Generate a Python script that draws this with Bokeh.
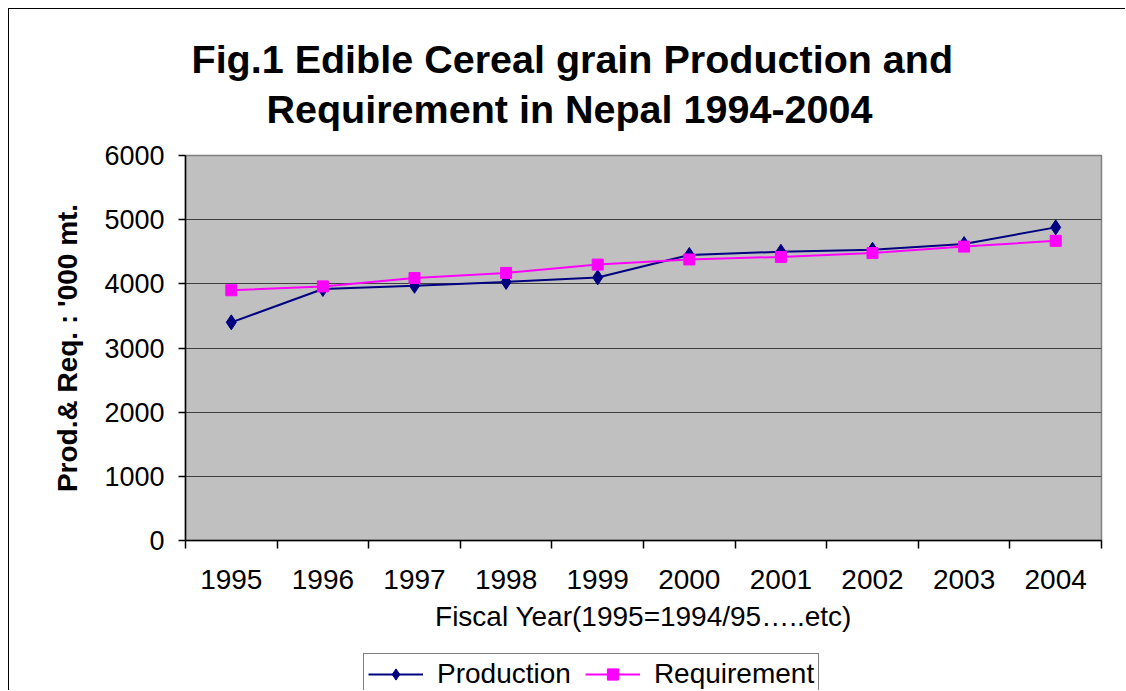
from bokeh.plotting import figure
from bokeh.models import (ColumnDataSource, FixedTicker, Title, Legend, LegendItem, Range1d, Spacer)
from bokeh.layouts import column, row
from bokeh.embed import file_html
from bokeh.resources import INLINE

years = [1995, 1996, 1997, 1998, 1999, 2000, 2001, 2002, 2003, 2004]
production = [3400, 3920, 3970, 4030, 4100, 4450, 4500, 4530, 4620, 4880]
requirement = [3900, 3960, 4090, 4170, 4300, 4380, 4420, 4480, 4580, 4670]
y_ticks = [0, 1000, 2000, 3000, 4000, 5000, 6000]
series_names = ["Production", "Requirement"]

title_line1 = "Fig.1 Edible Cereal grain Production and"
title_line2 = "Requirement in Nepal 1994-2004"
x_title = "Fiscal Year(1995=1994/95\u2026..etc)"
y_title = "Prod.& Req. : '000 mt."

FONT = "Liberation Sans"
navy = "#000080"
mag = "#FF00FF"

src = ColumnDataSource(dict(year=years, prod=production, req=requirement))

p = figure(width=1116, height=637, output_backend="svg", toolbar_location=None,
           x_range=Range1d(years[0] - 0.5, years[-1] + 0.5),
           y_range=Range1d(y_ticks[0], y_ticks[-1]),
           min_border_left=176, min_border_right=24,
           min_border_top=146, min_border_bottom=106)
p.title = None
p.background_fill_color = "#C0C0C0"
p.border_fill_color = "white"
p.outline_line_color = "#808080"
p.outline_line_width = 1.5

# titles (inner line added first)
t2 = Title(text=title_line2, align="left", text_font=FONT, text_font_size="39.5px",
           text_font_style="bold", text_color="black", standoff=50, offset=81)
t1 = Title(text=title_line1, align="left", text_font=FONT, text_font_size="39.5px",
           text_font_style="bold", text_color="black", standoff=-42, offset=6)
p.add_layout(t2, "above")
p.add_layout(t1, "above")

# axes
xax = p.xaxis[0]
xax.ticker = FixedTicker(ticks=years, minor_ticks=[y - 0.5 for y in years] + [years[-1] + 0.5])
xax.major_tick_line_color = None
xax.minor_tick_out = 8
xax.minor_tick_in = 0
xax.minor_tick_line_color = "black"
xax.minor_tick_line_width = 1.5
xax.axis_line_color = "black"
xax.axis_line_width = 1.5
xax.major_label_text_font = FONT
xax.major_label_text_font_size = "28px"
xax.major_label_text_color = "black"
xax.major_label_standoff = 21
xax.axis_label = x_title
xax.axis_label_text_font = FONT
xax.axis_label_text_font_size = "28px"
xax.axis_label_text_font_style = "normal"
xax.axis_label_text_color = "black"
xax.axis_label_standoff = 9

yax = p.yaxis[0]
yax.ticker = FixedTicker(ticks=y_ticks, minor_ticks=[])
yax.major_tick_out = 7
yax.major_tick_in = 0
yax.major_tick_line_color = "black"
yax.major_tick_line_width = 1.5
yax.axis_line_color = "black"
yax.axis_line_width = 1.5
yax.major_label_text_font = FONT
yax.major_label_text_font_size = "27px"
yax.major_label_text_color = "black"
yax.major_label_standoff = 14
yax.axis_label = y_title
yax.axis_label_text_font = FONT
yax.axis_label_text_font_size = "28px"
yax.axis_label_text_font_style = "bold"
yax.axis_label_text_color = "black"
yax.axis_label_standoff = 18

p.xgrid.grid_line_color = None
p.ygrid.ticker = FixedTicker(ticks=y_ticks)
p.ygrid.grid_line_color = "#404040"
p.ygrid.grid_line_width = 1

# series
DIAMOND = dict(marker="diamond", size=15, fill_color=navy, line_color=navy)
SQUARE = dict(marker="square", size=11, fill_color=mag, line_color=mag)
p.line("year", "prod", source=src, line_color=navy, line_width=2)
p.scatter("year", "prod", source=src, **DIAMOND)
p.line("year", "req", source=src, line_color=mag, line_width=2)
p.scatter("year", "req", source=src, **SQUARE)

# legend strip (separate small canvas below the chart, as in the original);
# its renderers share the data but their view range holds none of it
lg = figure(width=460, height=37, output_backend="svg", toolbar_location=None,
            x_range=Range1d(0, 1), y_range=Range1d(0, 1),
            x_axis_type=None, y_axis_type=None,
            min_border_left=0, min_border_right=0, min_border_top=0, min_border_bottom=0)
lg.title = None
lg.outline_line_color = None
lg.background_fill_color = "white"
lg.border_fill_color = "white"
lg.grid.visible = False
l1 = lg.line("year", "prod", source=src, line_color=navy, line_width=2)
s1 = lg.scatter("year", "prod", source=src, **DIAMOND)
l2 = lg.line("year", "req", source=src, line_color=mag, line_width=2)
s2 = lg.scatter("year", "req", source=src, **SQUARE)
legend = Legend(items=[LegendItem(label=series_names[0], renderers=[l1, s1], index=0),
                       LegendItem(label=series_names[1], renderers=[l2, s2], index=0)],
                orientation="horizontal", location="top_left",
                label_text_font=FONT, label_text_font_size="28px", label_text_color="black",
                glyph_width=55, glyph_height=28, label_height=28, label_standoff=14, spacing=14,
                padding=4, margin=0, border_line_color="black", border_line_width=1.5,
                background_fill_color="white", background_fill_alpha=1.0)
lg.add_layout(legend, "center")

layout = column(p, row(Spacer(width=354, height=37), lg), spacing=7)
layout.styles = {"border-left": "1px solid black", "border-top": "1px solid black",
                 "margin-left": "8px", "margin-top": "8px"}

open("out.html", "w").write(file_html(layout, INLINE))
